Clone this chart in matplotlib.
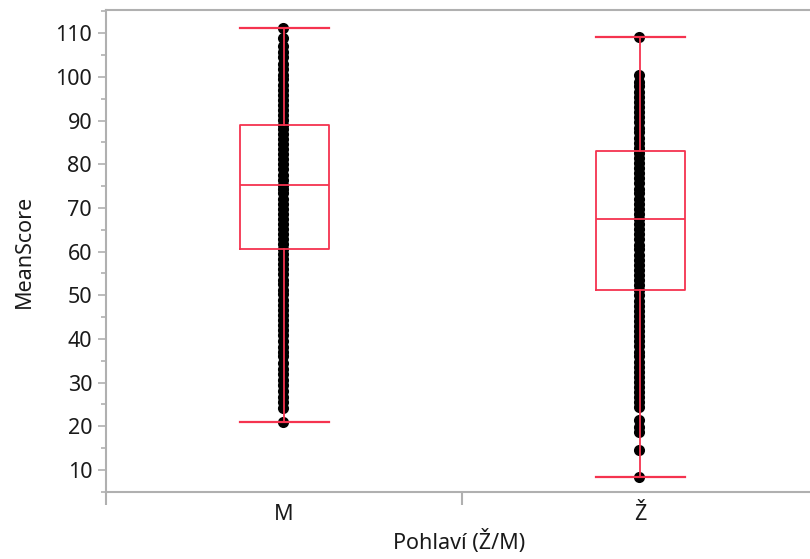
import matplotlib
matplotlib.use("Agg")
import matplotlib.pyplot as plt
from matplotlib.ticker import MultipleLocator, FixedLocator

plt.rcParams['font.family'] = ['Noto Sans', 'DejaVu Sans']

categories = ["M", "Ž"]

scores_m = [21.0, 24.3, 25.5, 26.8, 28.0, 29.5, 30.6, 32.0, 33.2, 34.5, 36.0, 37.0,
            38.2, 39.5, 40.8, 42.0, 43.1, 44.3, 45.5, 46.7, 47.8, 49.0, 50.2, 51.3,
            52.5, 53.6, 54.8, 56.0, 57.1, 58.3, 59.4, 60.6, 61.8, 62.9, 64.0, 65.2,
            66.3, 67.5, 68.6, 69.8, 71.0, 72.1, 73.3, 74.4, 75.2, 76.5, 77.6, 78.8,
            80.0, 81.1, 82.3, 83.4, 84.6, 85.7, 86.9, 88.0, 89.0, 90.2, 91.3, 92.5,
            93.6, 94.8, 95.9, 97.0, 98.2, 99.4, 100.5, 101.8, 103.0, 104.5, 105.8,
            107.0, 108.8, 111.2]

scores_z = [8.4, 14.6, 18.6, 19.8, 21.5, 24.4, 25.6, 26.7, 27.8, 29.0, 30.2, 31.3,
            32.5, 33.6, 34.8, 36.0, 37.1, 38.3, 39.5, 40.6, 41.8, 43.0, 44.1, 45.3,
            46.5, 47.6, 48.8, 50.0, 51.2, 52.3, 53.5, 54.6, 55.8, 57.0, 58.1, 59.3,
            60.5, 61.6, 62.8, 64.0, 65.1, 66.3, 67.4, 68.6, 69.8, 70.9, 72.1, 73.3,
            74.4, 75.6, 76.8, 77.9, 79.1, 80.3, 81.4, 82.6, 83.8, 84.9, 86.1, 87.3,
            88.4, 89.6, 90.8, 91.9, 93.1, 94.3, 95.4, 96.6, 97.8, 98.9, 100.5, 109.1]

whisker_low = [21.0, 8.4]
q1 = [60.6, 51.2]
median = [75.2, 67.4]
q3 = [88.9, 83.0]
whisker_high = [111.2, 109.1]

fig = plt.figure(figsize=(8.10, 5.59), dpi=100)
ax = fig.add_axes([106 / 810, 67 / 559, 712 / 810, 482 / 559])

red = '#F5334F'
for i, pts in enumerate([scores_m, scores_z]):
    ax.plot([i - 0.004] * len(pts), pts, 'o', color='black', markersize=8,
            markeredgewidth=0, zorder=2)

stats = []
for i, c in enumerate(categories):
    stats.append(dict(label=c, whislo=whisker_low[i], q1=q1[i], med=median[i],
                      q3=q3[i], whishi=whisker_high[i], fliers=[]))
ax.bxp(stats, positions=[0, 1], widths=0.25, showfliers=False,
       boxprops=dict(color=red, linewidth=1.3),
       medianprops=dict(color=red, linewidth=1.3),
       whiskerprops=dict(color=red, linewidth=1.3),
       capprops=dict(color=red, linewidth=1.6),
       capwidths=0.25, zorder=3, manage_ticks=False)

ax.set_xlim(-0.5, 1.5)
ax.set_ylim(4.97, 115.3)

ax.set_yticks(range(10, 111, 10))
ax.yaxis.set_minor_locator(MultipleLocator(5))

ax.xaxis.set_major_locator(FixedLocator([0, 1]))
ax.set_xticklabels(categories)
ax.xaxis.set_minor_locator(FixedLocator([-0.5, 0.5, 1.5]))

gray = '#B0B0B0'
for s in ['left', 'bottom', 'top']:
    ax.spines[s].set_color(gray)
    ax.spines[s].set_linewidth(1.5)
ax.spines['right'].set_visible(False)

txt = '#1a1a1a'
ax.tick_params(axis='y', which='major', length=6, width=1.2, color=gray,
               labelsize=15.5, labelcolor=txt, pad=4)
ax.tick_params(axis='y', which='minor', length=3.5, width=1.2, color=gray)
ax.tick_params(axis='x', which='major', length=0, labelsize=15.5,
               labelcolor=txt, pad=9)
ax.tick_params(axis='x', which='minor', length=9, width=1.5, color=gray)

ax.set_ylabel('MeanScore', fontsize=15.5, color=txt)
ax.yaxis.set_label_coords((35 - 106) / 712, 0.5)
ax.set_xlabel('Pohlaví (Ž/M)', fontsize=15.5, color=txt)
ax.xaxis.set_label_coords((459 - 106) / 712, -(530 - 492) / 482)
ax.set_facecolor('white')

fig.savefig('out.png', dpi=100)
